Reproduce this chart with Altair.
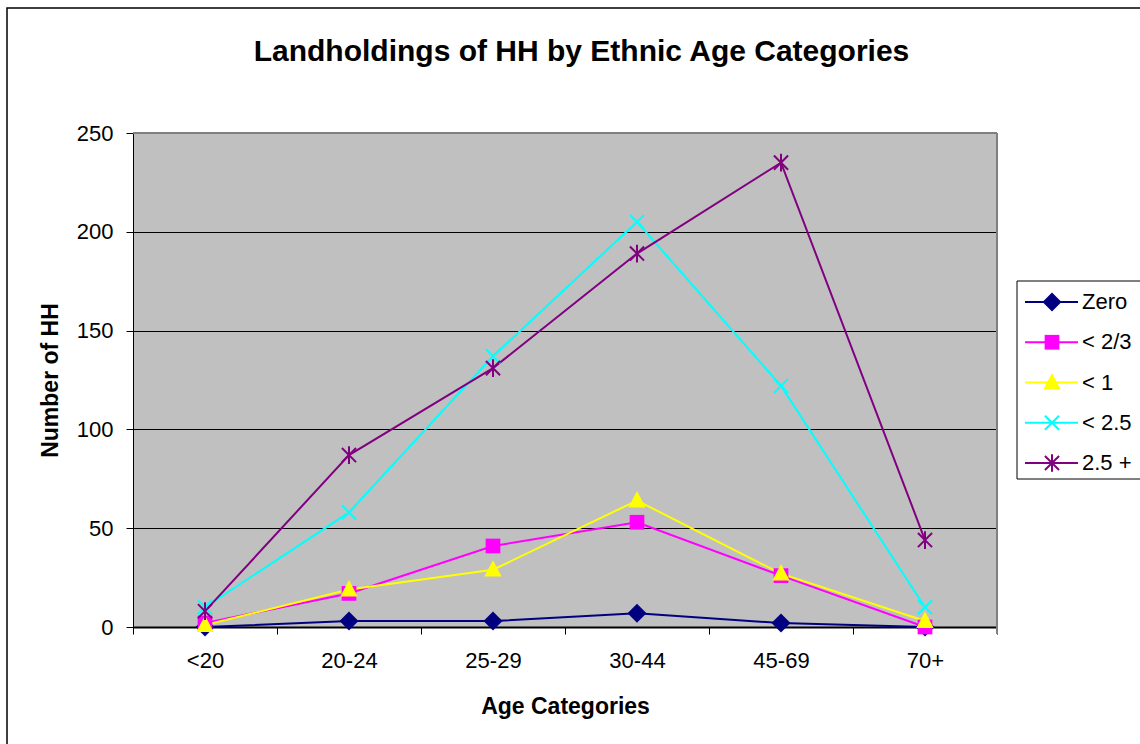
import altair as alt
import pandas as pd

# Age bands on the x axis and the landholding classes drawn as series
categories = ["<20", "20-24", "25-29", "30-44", "45-69", "70+"]
series_names = ["Zero", "< 2/3", "< 1", "< 2.5", "2.5 +"]

# Number of households per age band, one list per landholding class
zero = [0, 3, 3, 7, 2, 0]
under_two_thirds = [2, 17, 41, 53, 26, 0]
under_one = [1, 19, 29, 64, 27, 3]
under_two_half = [10, 58, 137, 205, 122, 10]
two_half_plus = [8, 87, 131, 189, 235, 44]

series_values = [zero, under_two_thirds, under_one, under_two_half, two_half_plus]
series_colors = ["#000080", "#ff00ff", "#ffff00", "#00ffff", "#800080"]

X_PATH = "M-1,-1L1,1M-1,1L1,-1"
STAR_PATH = "M-1,-1L1,1M-1,1L1,-1M0,-1.25L0,1.25"
TRI_PATH = "M0,-1.1L1,0.8L-1,0.8Z"
DIAMOND_PATH = "M0,-1.1L1.1,0L0,1.1L-1.1,0Z"
SQUARE_PATH = "M-0.85,-0.85L0.85,-0.85L0.85,0.85L-0.85,0.85Z"
series_shapes = [DIAMOND_PATH, SQUARE_PATH, TRI_PATH, X_PATH, STAR_PATH]
filled_series = series_names[:3]
open_series = series_names[3:]

rows = []
for name, values in zip(series_names, series_values):
    for cat, v in zip(categories, values):
        rows.append({"series": name, "category": cat, "value": v})
df = pd.DataFrame(rows)
legend_df = pd.DataFrame({"series": series_names})
one_row = pd.DataFrame({"k": [0]})

FONT = "Liberation Sans"
W, H = 864, 494
LEFT, TOP = 133, 133

x_scale = alt.Scale(type="band", domain=categories, paddingInner=0, paddingOuter=0)
y_scale = alt.Scale(domain=[0, 250], nice=False, zero=True)
color_scale = alt.Scale(domain=series_names, range=series_colors)
shape_scale = alt.Scale(domain=series_names, range=series_shapes)

x_axis = alt.Axis(
    title="Age Categories", tickBand="extent", labelAngle=0, labelFontSize=22,
    labelPadding=16, labelColor="black", tickSize=7, tickColor="black",
    domainColor="black", domainWidth=2, grid=False, titleFontSize=23,
    titleFontWeight="bold", titleColor="black", titleX=W / 2, titleY=86,
    titleBaseline="alphabetic", titleAlign="center",
)
y_axis = alt.Axis(
    title="Number of HH", values=[0, 50, 100, 150, 200, 250], grid=True,
    gridColor="black", gridWidth=1, labelFontSize=22, labelPadding=13,
    labelColor="black", tickSize=7, tickColor="black", domainColor="black",
    domainWidth=1, titleFontSize=23, titleFontWeight="bold", titleColor="black",
    titleAngle=270, titleX=-76, titleY=H / 2, titleBaseline="alphabetic",
    titleAlign="center",
)

x_enc = alt.X("category:N", sort=categories, scale=x_scale, axis=x_axis)
y_enc = alt.Y("value:Q", scale=y_scale, axis=y_axis)
y_plain = alt.Y("value:Q", scale=y_scale, axis=None)
color_enc = alt.Color("series:N", scale=color_scale, legend=None)
shape_enc = alt.Shape("series:N", scale=shape_scale, legend=None)

FILLED_SIZE = 300
OPEN_SIZE = 200

# Plot frame: grey top and right edges
frame_top = alt.Chart(one_row).mark_rule(color="#808080", strokeWidth=2).encode(
    x=alt.value(0), x2=alt.value(W), y=alt.value(0)
)
frame_right = alt.Chart(one_row).mark_rule(color="#808080", strokeWidth=2).encode(
    x=alt.value(W), y=alt.value(0), y2=alt.value(H + 7)
)

lines = alt.Chart(df).mark_line(strokeWidth=2).encode(
    x=x_enc, y=y_enc, color=color_enc
)
points_filled = alt.Chart(df).transform_filter(
    alt.FieldOneOfPredicate(field="series", oneOf=filled_series)
).mark_point(filled=True, size=FILLED_SIZE, opacity=1).encode(
    x=x_enc, y=y_plain, color=color_enc, shape=shape_enc,
)
points_open = alt.Chart(df).transform_filter(
    alt.FieldOneOfPredicate(field="series", oneOf=open_series)
).mark_point(filled=False, size=OPEN_SIZE, strokeWidth=2, opacity=1).encode(
    x=x_enc, y=y_plain, color=color_enc, shape=shape_enc,
)

# Chart title
title = alt.Chart(one_row).mark_text(
    text="Landholdings of HH by Ethnic Age Categories", font=FONT, fontSize=30,
    fontWeight="bold", align="center", baseline="alphabetic", color="black",
).encode(x=alt.value(448.5), y=alt.value(-72))

# Outer chart border
border = alt.Chart(one_row).mark_rect(
    fill=None, stroke="black", strokeWidth=1.5
).encode(x=alt.value(-126), x2=alt.value(1012), y=alt.value(-125), y2=alt.value(616))

# Legend box with line + marker samples
legend_box = alt.Chart(one_row).mark_rect(
    fill="white", stroke="black", strokeWidth=1
).encode(x=alt.value(884), x2=alt.value(1012), y=alt.value(148), y2=alt.value(346))

leg_y = alt.Y("series:N", scale=alt.Scale(type="point", domain=series_names,
                                           range=[169, 330], padding=0), axis=None)
leg_lines = alt.Chart(legend_df).mark_rule(strokeWidth=2).encode(
    x=alt.value(892), x2=alt.value(945), y=leg_y, color=color_enc
)
leg_filled = alt.Chart(legend_df).transform_filter(
    alt.FieldOneOfPredicate(field="series", oneOf=filled_series)
).mark_point(filled=True, size=FILLED_SIZE, opacity=1).encode(
    x=alt.value(919), y=leg_y, color=color_enc, shape=shape_enc
)
leg_open = alt.Chart(legend_df).transform_filter(
    alt.FieldOneOfPredicate(field="series", oneOf=open_series)
).mark_point(filled=False, size=OPEN_SIZE, strokeWidth=2, opacity=1).encode(
    x=alt.value(919), y=leg_y, color=color_enc, shape=shape_enc
)
leg_text = alt.Chart(legend_df).mark_text(
    align="left", baseline="middle", font=FONT, fontSize=22, color="black"
).encode(x=alt.value(949), y=leg_y, text="series:N")

chart = alt.layer(
    frame_top, frame_right, lines, points_filled, points_open,
    title, border, legend_box, leg_lines, leg_filled, leg_open, leg_text,
).resolve_scale(y="independent").properties(
    width=W, height=H,
    autosize=alt.AutoSizeParams(type="none"),
    padding={"left": LEFT, "top": TOP, "right": 1140 - LEFT - W, "bottom": 744 - TOP - H},
    background="white",
).configure_view(
    fill="#c0c0c0", stroke=None
).configure_axis(
    labelFont=FONT, titleFont=FONT
)

chart.save("out.html", embed_options={"renderer": "svg", "actions": False})
